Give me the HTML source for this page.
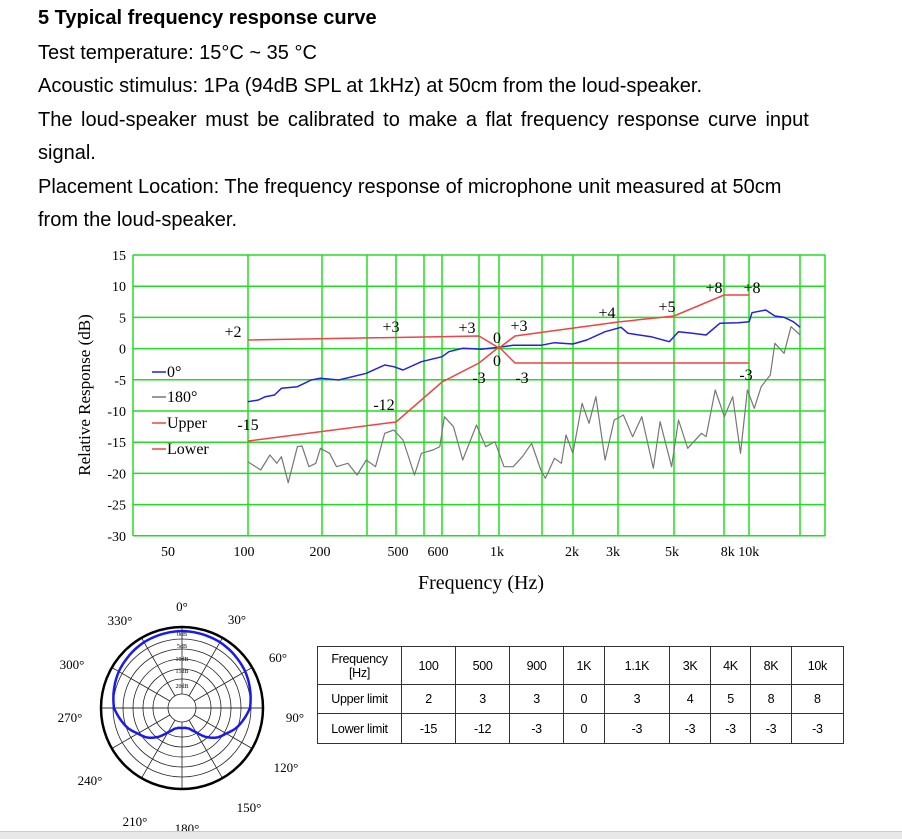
<!DOCTYPE html>
<html><head><meta charset="utf-8"><style>
body{margin:0;width:902px;height:838px;background:#fff;overflow:hidden;position:relative;font-family:"Liberation Sans",Arial,sans-serif;color:#000}
.t{position:absolute;left:38px;font-size:20px;white-space:nowrap}
svg{position:absolute;left:0;top:0}
table{position:absolute;left:317px;top:646px;width:527px;height:97px;border-collapse:collapse;font-size:12.5px;font-family:"Liberation Sans",Arial,sans-serif;letter-spacing:-0.3px}
td{border:1px solid #333;text-align:center;padding:0}
</style></head><body>
<div class="t" style="top:7px;font-weight:bold">5 Typical frequency response curve</div>
<div class="t" style="top:42px">Test temperature: 15°C ~ 35 °C</div>
<div class="t" style="top:75px">Acoustic stimulus: 1Pa (94dB SPL at 1kHz) at 50cm from the loud-speaker.</div>
<div class="t" style="top:109px;word-spacing:3px">The loud-speaker must be calibrated to make a flat frequency response curve input</div>
<div class="t" style="top:142px">signal.</div>
<div class="t" style="top:176px">Placement Location: The frequency response of microphone unit measured at 50cm</div>
<div class="t" style="top:209px">from the loud-speaker.</div>
<svg id="s" width="902" height="838" font-family="'Liberation Serif',serif"></svg>
<table>
<tr style="height:38px"><td style="width:83px;line-height:14px">Frequency<br>[Hz]</td><td>100</td><td>500</td><td>900</td><td>1K</td><td>1.1K</td><td>3K</td><td>4K</td><td>8K</td><td>10k</td></tr>
<tr style="height:29px"><td>Upper limit</td><td>2</td><td>3</td><td>3</td><td>0</td><td>3</td><td>4</td><td>5</td><td>8</td><td>8</td></tr>
<tr style="height:30px"><td>Lower limit</td><td>-15</td><td>-12</td><td>-3</td><td>0</td><td>-3</td><td>-3</td><td>-3</td><td>-3</td><td>-3</td></tr>
</table>
<div style="position:absolute;left:0;top:831px;width:902px;height:7px;background:#e8e8e8;border-top:1px solid #ccc"></div>
<script>
var s='';
function T(x,y,t,sz,a,extra){s+='<text x="'+x+'" y="'+y+'" font-size="'+sz+'" text-anchor="'+(a||'middle')+'" '+(extra||'')+'>'+t+'</text>';}
var vx=[133,248,322,367,396,424,442,479,499,542,573,618,674,724,749,800,825];
vx.forEach(function(x){s+='<line x1="'+x+'" y1="255" x2="'+x+'" y2="536" stroke="#22dd22" stroke-width="1.5"/>';});
for(var i=0;i<=9;i++){var y=255+i*31.2;s+='<line x1="133" y1="'+y+'" x2="825" y2="'+y+'" stroke="#22dd22" stroke-width="1.5"/>';
 T(126,y+5,(15-5*i),14,'end');}
[[168,'50'],[244,'100'],[320,'200'],[398,'500'],[438,'600'],[497,'1k'],[572,'2k'],[613,'3k'],[672,'5k'],[740,'8k 10k']].forEach(function(l){T(l[0],556,l[1],14);});
T(481,589,'Frequency (Hz)',20);
s+='<text x="90" y="395" font-size="17" text-anchor="middle" transform="rotate(-90 90 395)">Relative  Response  (dB)</text>';
function P(pts,c,w){var d=pts.map(function(p){return ((p[0]/2.178)+100).toFixed(1)+','+(p[1]/3+240).toFixed(1);}).join(' ');
 s+='<polyline points="'+d+'" fill="none" stroke="'+c+'" stroke-width="'+w+'" stroke-linejoin="round"/>';}
P([[322,665],[350,690],[370,645],[385,670],[395,650],[410,728],[430,620],[440,618],[455,680],[470,670],[480,625],[500,640],[515,680],[540,670],[560,705],[580,660],[600,680],[620,580],[640,570],[660,600],[685,705],[700,640],[725,630],[740,620],[750,530],[770,560],[790,660],[820,555],[840,620],[860,605],[880,680],[900,680],[920,650],[940,610],[960,690],[970,715],[990,655],[1005,670],[1015,585],[1030,640],[1050,490],[1065,550],[1080,470],[1100,660],[1120,540],[1140,525],[1160,590],[1180,530],[1205,685],[1220,545],[1245,680],[1260,540],[1280,625],[1310,580],[1320,590],[1340,450],[1360,530],[1378,470],[1395,640],[1410,450],[1425,505],[1440,440],[1460,405],[1470,310],[1490,340],[1505,260],[1525,285]],'#777',1.2);
P([[322,485],[345,480],[360,470],[380,465],[395,445],[430,440],[460,420],[480,415],[520,420],[580,400],[620,375],[640,380],[660,390],[700,365],[745,350],[760,335],[790,325],[830,328],[868,322],[900,316],[960,316],[990,308],[1030,312],[1060,300],[1100,275],[1135,262],[1150,280],[1200,290],[1240,305],[1260,275],[1290,280],[1320,285],[1350,250],[1390,248],[1414,245],[1420,218],[1450,210],[1470,228],[1490,232],[1510,245],[1525,262]],'#2222dd',1.5);
function Q(pts,c){s+='<polyline points="'+pts.map(function(p){return p.join(',');}).join(' ')+'" fill="none" stroke="'+c+'" stroke-width="1.5"/>';}
Q([[248,340],[479,336],[499,348],[515,336],[618,322],[674,316],[724,295],[749,295]],'#ee4444');
Q([[248,441],[396,422],[442,382],[479,363],[499,347],[515,363],[749,363]],'#ee4444');
[[233,337,'+2'],[391,332,'+3'],[467,333,'+3'],[497,343,'0'],[519,331,'+3'],[607,318,'+4'],[667,312,'+5'],[714,293,'+8'],[752,293,'+8'],[497,366,'0'],[479,383,'-3'],[522,383,'-3'],[746,380,'-3'],[384,410,'-12'],[248,430,'-15']].forEach(function(l){T(l[0],l[1],l[2],16);});
[[377,'#2222dd','0°'],[402,'#777','180°'],[428,'#ee4444','Upper'],[454,'#ee4444','Lower']].forEach(function(l){
 s+='<line x1="152" y1="'+(l[0]-5)+'" x2="166" y2="'+(l[0]-5)+'" stroke="'+l[1]+'" stroke-width="1.5"/>';T(167,l[0],l[2],16,'start');});
var cx=182,cy=708;
[69,59,49,39,29,14].forEach(function(r){s+='<circle cx="'+cx+'" cy="'+cy+'" r="'+r+'" fill="none" stroke="#222" stroke-width="0.8"/>';});
for(var a=0;a<360;a+=30){var t=a*Math.PI/180;s+='<line x1="'+(cx+14*Math.sin(t))+'" y1="'+(cy-14*Math.cos(t))+'" x2="'+(cx+81*Math.sin(t))+'" y2="'+(cy-81*Math.cos(t))+'" stroke="#222" stroke-width="0.8"/>';}
s+='<line x1="'+(cx-81)+'" y1="'+cy+'" x2="'+(cx+81)+'" y2="'+cy+'" stroke="#222" stroke-width="0.8"/>';
s+='<circle cx="'+cx+'" cy="'+cy+'" r="81" fill="none" stroke="#000" stroke-width="2.5"/>';
var kp=[[0,77],[30,76],[60,73],[90,68],[110,58],[120,51],[130,46],[140,38],[150,28],[160,22],[170,20],[180,20]];
function R(a){a=Math.abs(a);for(var i=0;i<kp.length-1;i++){if(a<=kp[i+1][0]){var f=(a-kp[i][0])/(kp[i+1][0]-kp[i][0]);return kp[i][1]+f*(kp[i+1][1]-kp[i][1]);}}return 20;}
var pp=[];for(var a=-180;a<=180;a+=3){var t=a*Math.PI/180,r=R(a);pp.push((cx+r*Math.sin(t)).toFixed(1)+','+(cy-r*Math.cos(t)).toFixed(1));}
s+='<polygon points="'+pp.join(' ')+'" fill="none" stroke="#1a1aee" stroke-width="2.5"/>';
[[636,'0dB'],[648,'5dB'],[661,'10dB'],[673,'15dB'],[688,'20dB']].forEach(function(l){T(182,l[0],l[1],6);});
[[182,611,'0°'],[237,624,'30°'],[278,662,'60°'],[295,722,'90°'],[286,772,'120°'],[249,812,'150°'],[187,833,'180°'],[135,826,'210°'],[90,785,'240°'],[70,722,'270°'],[72,669,'300°'],[120,625,'330°']].forEach(function(l){T(l[0],l[1],l[2],13);});
document.getElementById('s').innerHTML=s;
</script>
</body></html>
